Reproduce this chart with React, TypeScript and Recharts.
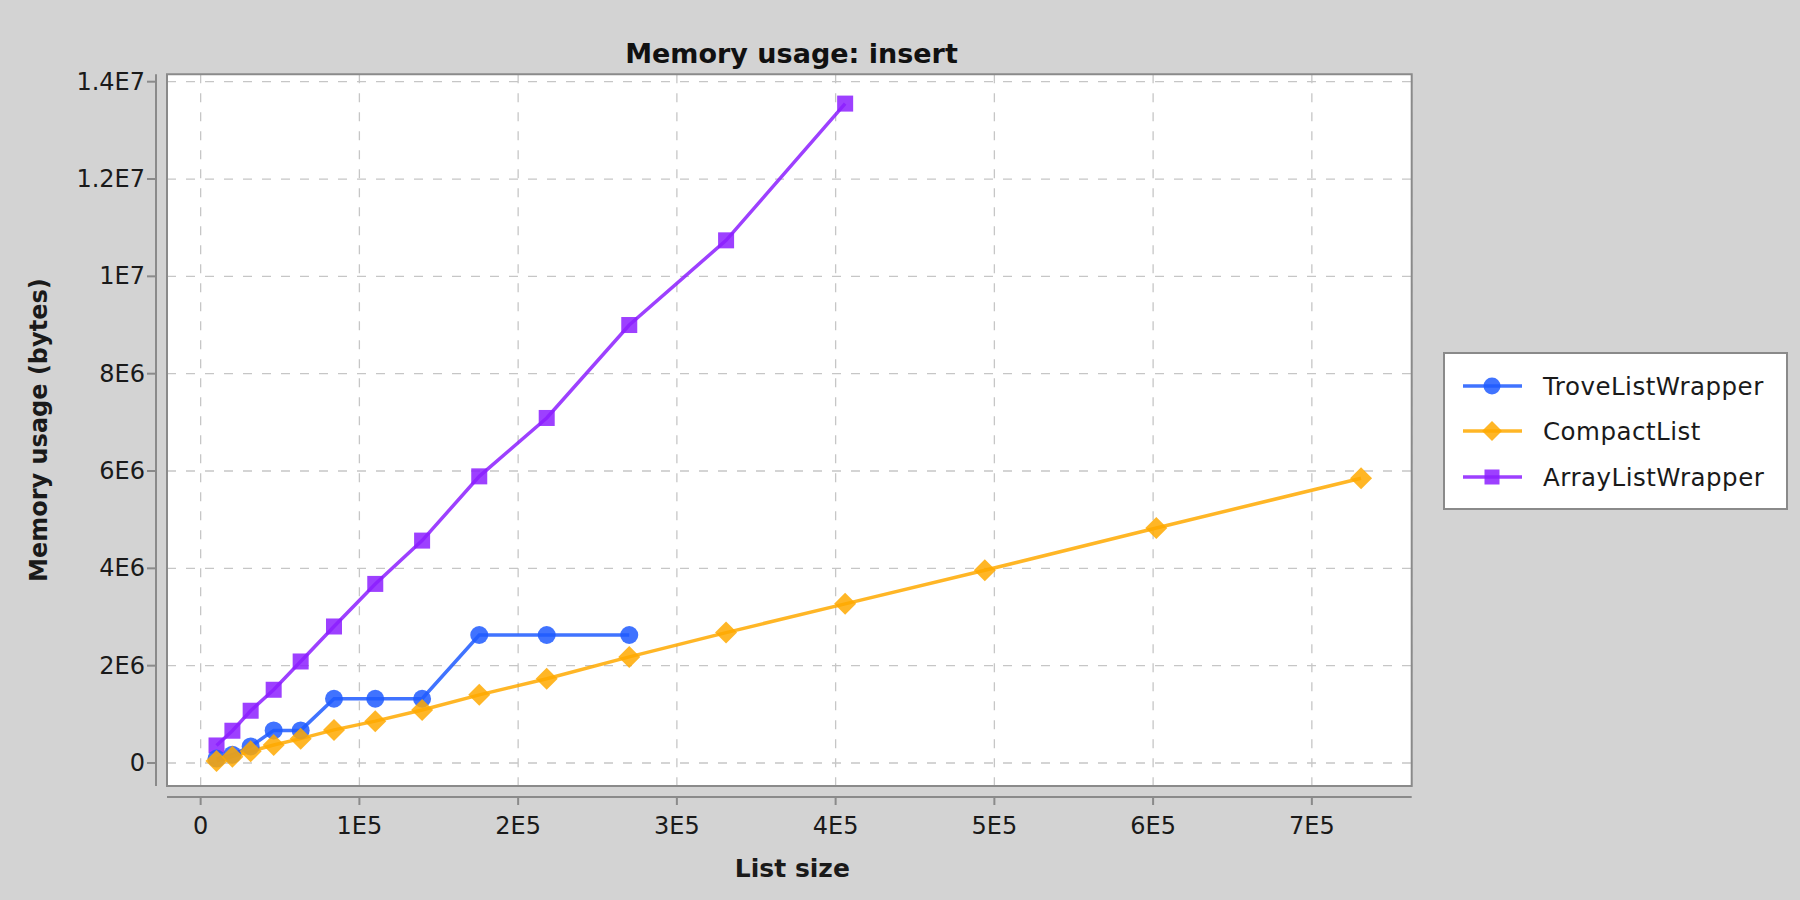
import React from 'react';
import { LineChart, Line, XAxis, YAxis, CartesianGrid, ReferenceArea, Legend } from 'recharts';

// ---- data ----
const listSizes = [10000, 20000, 31500, 46000, 63000, 84000, 110000, 139500, 175500, 218000, 270000, 331000, 406000, 494000, 602000, 731000];
const troveValues = [90000, 170000, 340000, 670000, 670000, 1320000, 1320000, 1320000, 2630000, 2630000, 2630000];
const compactValues = [40000, 130000, 240000, 370000, 500000, 680000, 860000, 1090000, 1400000, 1730000, 2180000, 2680000, 3270000, 3960000, 4830000, 5850000];
const arrayListValues = [360000, 663000, 1074000, 1505000, 2086000, 2805000, 3680000, 4570000, 5890000, 7090000, 9000000, 10740000, 13550000];
const seriesNames = ['TroveListWrapper', 'CompactList', 'ArrayListWrapper'];
const xTicks = [0, 100000, 200000, 300000, 400000, 500000, 600000, 700000];
const yTicks = [0, 2000000, 4000000, 6000000, 8000000, 10000000, 12000000, 14000000];
const xDomain = [-21200, 762900];
const yDomain = [-472700, 14152000];

const FONT = '"DejaVu Sans", sans-serif';
const COLORS = { trove: '#1f5bff', compact: '#ffa900', array: '#8c1fff' };
const ALPHA = 0.85;

const toSeries = (vals: number[]) => vals.map((v, i) => ({ x: listSizes[i], y: v }));
const troveData = toSeries(troveValues);
const compactData = toSeries(compactValues);
const arrayData = toSeries(arrayListValues);

const fmt = (v: number) => {
  if (v === 0) return '0';
  const e = Math.floor(Math.log10(v) + 1e-9);
  const m = parseFloat((v / Math.pow(10, e)).toFixed(2));
  return `${m}E${e}`;
};

const XTick = (props: any) => {
  const { x, y, payload } = props;
  return (
    <g>
      <line x1={x} x2={x} y1={y + 11} y2={y + 19} stroke="#8a8a8a" strokeWidth={2} />
      <text x={x} y={y + 48} textAnchor="middle" fontSize={24} fontFamily={FONT} fill="#1a1a1a">
        {fmt(payload.value)}
      </text>
    </g>
  );
};

const YTick = (props: any) => {
  const { x, y, payload } = props;
  return (
    <g>
      <line x1={x - 20} x2={x - 11} y1={y} y2={y} stroke="#8a8a8a" strokeWidth={2} />
      <text x={x - 22} y={y} textAnchor="end" dominantBaseline="central" fontSize={24} fontFamily={FONT} fill="#1a1a1a">
        {fmt(payload.value)}
      </text>
    </g>
  );
};

const Circle = (p: any) => {
  const { cx, cy, index } = p;
  return <circle key={`c${index}`} cx={cx} cy={cy} r={9} fill={COLORS.trove} fillOpacity={ALPHA} />;
};
const Diamond = (p: any) => {
  const { cx, cy, index } = p;
  const s = 11;
  return (
    <polygon key={`d${index}`} points={`${cx},${cy - s} ${cx + s},${cy} ${cx},${cy + s} ${cx - s},${cy}`} fill={COLORS.compact} fillOpacity={ALPHA} />
  );
};
const Square = (p: any) => {
  const { cx, cy, index } = p;
  const s = 8;
  return <rect key={`s${index}`} x={cx - s} y={cy - s} width={2 * s} height={2 * s} fill={COLORS.array} fillOpacity={ALPHA} />;
};

const legendItems = [
  { name: seriesNames[0], color: COLORS.trove, shape: 'circle' },
  { name: seriesNames[1], color: COLORS.compact, shape: 'diamond' },
  { name: seriesNames[2], color: COLORS.array, shape: 'square' },
];

const LegendBox = () => {
  const rows = [34, 79, 125];
  return (
    <svg width={345} height={158} style={{ display: 'block' }}>
      <rect x={1} y={1} width={343} height={156} fill="#fff" stroke="#8a8a8a" strokeWidth={2} />
      {legendItems.map((it, i) => {
        const cy = rows[i];
        const cx = 49;
        return (
          <g key={it.name}>
            <line x1={20} x2={79} y1={cy} y2={cy} stroke={it.color} strokeOpacity={ALPHA} strokeWidth={3.5} />
            {it.shape === 'circle' && <circle cx={cx} cy={cy} r={8.5} fill={it.color} fillOpacity={ALPHA} />}
            {it.shape === 'diamond' && (
              <polygon points={`${cx},${cy - 10} ${cx + 10},${cy} ${cx},${cy + 10} ${cx - 10},${cy}`} fill={it.color} fillOpacity={ALPHA} />
            )}
            {it.shape === 'square' && <rect x={cx - 7.5} y={cy - 7.5} width={15} height={15} fill={it.color} fillOpacity={ALPHA} />}
            <text x={100} y={cy} dominantBaseline="central" fontSize={24.5} letterSpacing={0.5} fontFamily={FONT} fill="#1a1a1a">
              {it.name}
            </text>
          </g>
        );
      })}
    </svg>
  );
};

const YLabel = (props: any) => {
  const vb = props.viewBox || { x: 17, y: 74.3, width: 150, height: 711.7 };
  const x = 39;
  const y = vb.y + vb.height / 2;
  return (
    <text x={x} y={y} transform={`rotate(-90, ${x}, ${y})`} textAnchor="middle" dominantBaseline="central" fontSize={24} fontWeight="bold" fontFamily={FONT} fill="#1a1a1a">
      Memory usage (bytes)
    </text>
  );
};

const XLabel = (props: any) => {
  const vb = props.viewBox || { x: 167, y: 786, width: 1244.7, height: 80 };
  const x = vb.x + vb.width / 2 + 3;
  return (
    <text x={x} y={877} textAnchor="middle" fontSize={25} fontWeight="bold" fontFamily={FONT} fill="#1a1a1a">
      List size
    </text>
  );
};

export default function App() {
  return (
    <div style={{ position: 'absolute', left: 0, top: 0, width: 1800, height: 900, background: '#d3d3d3', overflow: 'hidden' }}>
      <LineChart
        width={1800}
        height={900}
        margin={{ top: 74.3, right: 388.3, bottom: 34, left: 17 }}
        style={{ fontFamily: FONT }}
      >
        <CartesianGrid
          fill="#ffffff"
          fillOpacity={1}
          stroke="#c6c6c6"
          strokeWidth={1.3}
          strokeDasharray="9 10"
        />
        <XAxis
          type="number"
          dataKey="x"
          domain={xDomain}
          ticks={xTicks}
          interval={0}
          allowDataOverflow
          height={80}
          tickSize={0}
          tickMargin={0}
          tickLine={false}
          tick={(p: any) => <XTick {...p} />}
          axisLine={{ stroke: '#8a8a8a', strokeWidth: 2, transform: 'translate(0, 11)' }}
          label={<XLabel />}
        />
        <YAxis
          type="number"
          dataKey="y"
          domain={yDomain}
          ticks={yTicks}
          interval={0}
          allowDataOverflow
          width={150}
          tickSize={0}
          tickMargin={0}
          tickLine={false}
          tick={(p: any) => <YTick {...p} />}
          axisLine={{ stroke: '#8a8a8a', strokeWidth: 2, transform: 'translate(-11, 0)' }}
          label={<YLabel />}
        />
        <Line
          data={arrayData}
          dataKey="y"
          name={seriesNames[2]}
          stroke={COLORS.array}
          strokeOpacity={ALPHA}
          strokeWidth={3.5}
          dot={(p: any) => <Square {...p} />}
          activeDot={false}
          isAnimationActive={false}
        />
        <Line
          data={troveData}
          dataKey="y"
          name={seriesNames[0]}
          stroke={COLORS.trove}
          strokeOpacity={ALPHA}
          strokeWidth={3.5}
          dot={(p: any) => <Circle {...p} />}
          activeDot={false}
          isAnimationActive={false}
        />
        <Line
          data={compactData}
          dataKey="y"
          name={seriesNames[1]}
          stroke={COLORS.compact}
          strokeOpacity={ALPHA}
          strokeWidth={3.5}
          dot={(p: any) => <Diamond {...p} />}
          activeDot={false}
          isAnimationActive={false}
        />
        <ReferenceArea
          x1={xDomain[0]}
          x2={xDomain[1]}
          y1={yDomain[0]}
          y2={yDomain[1]}
          fill="none"
          stroke="#8a8a8a"
          strokeWidth={2}
          ifOverflow="visible"
        />
        <Legend
          layout="vertical"
          align="center"
          verticalAlign="middle"
          wrapperStyle={{ position: 'absolute', left: 1443, top: 352, width: 345, height: 158 }}
          content={() => <LegendBox />}
        />
      </LineChart>
      <svg width={1800} height={100} style={{ position: 'absolute', left: 0, top: 0, pointerEvents: 'none' }}>
        <text x={791.5} y={62.7} textAnchor="middle" fontSize={27} fontWeight="bold" fontFamily={FONT} fill="#111">
          Memory usage: insert
        </text>
      </svg>
    </div>
  );
}
